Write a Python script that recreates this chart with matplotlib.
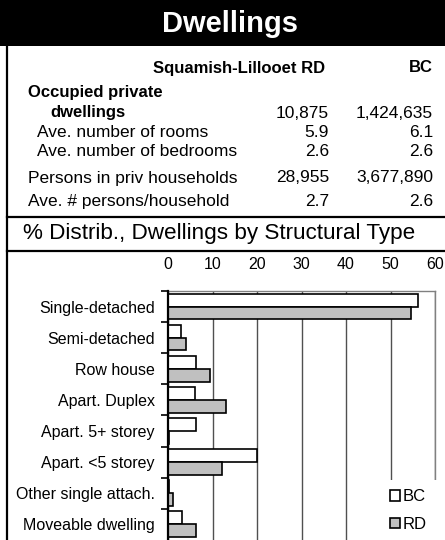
import matplotlib
matplotlib.use("Agg")
import matplotlib.pyplot as plt
from matplotlib.patches import Patch, Rectangle
from matplotlib.lines import Line2D

plt.rcParams['font.family'] = ['Liberation Sans', 'DejaVu Sans']

# ---- data ----
categories = ["Single-detached", "Semi-detached", "Row house", "Apart. Duplex",
              "Apart. 5+ storey", "Apart. <5 storey", "Other single attach.",
              "Moveable dwelling"]
bc_values = [56.2, 2.9, 6.2, 6.1, 6.2, 19.9, 0.2, 3.1]
rd_values = [54.7, 4.0, 9.5, 13.1, 0.3, 12.1, 1.1, 6.4]
x_ticks = [0, 10, 20, 30, 40, 50, 60]

title = "Dwellings"
col_headers = ["Squamish-Lillooet RD", "BC"]
row_labels = ["Ave. number of rooms", "Ave. number of bedrooms",
              "Persons in priv households", "Ave. # persons/household"]
dwell_rd, dwell_bc = "10,875", "1,424,635"
rd_stats = ["5.9", "2.6", "28,955", "2.7"]
bc_stats = ["6.1", "2.6", "3,677,890", "2.6"]
subtitle = "% Distrib., Dwellings by Structural Type"

W, H = 445, 540
fig = plt.figure(figsize=(W / 100, H / 100), dpi=100)

def fx(x):
    return x / W

def fy(y):
    return 1 - y / H

def T(x, y, s, **kw):
    kw.setdefault('va', 'center')
    fig.text(fx(x), fy(y), s, **kw)

# black title band
fig.add_artist(Rectangle((0, fy(46)), 1, 46 / H, transform=fig.transFigure,
                         facecolor='black', edgecolor='none'))
T(230, 24, title, ha='center', color='white', fontsize=21, fontweight='bold')

# left border line
fig.add_artist(Line2D([fx(7), fx(7)], [fy(46), 0], transform=fig.transFigure,
                      color='black', lw=1.6))
# horizontal separators
for yy in (217, 251):
    fig.add_artist(Line2D([fx(7), 1], [fy(yy), fy(yy)], transform=fig.transFigure,
                          color='black', lw=1.6))

# table text
T(325, 68, col_headers[0], ha='right', fontsize=12, fontweight='bold')
T(433, 68, col_headers[1], ha='right', fontsize=12, fontweight='bold')
T(28, 92, "Occupied private", ha='left', fontsize=12, fontweight='bold')
T(50, 113, "dwellings", ha='left', fontsize=12, fontweight='bold')
T(329, 113, dwell_rd, ha='right', fontsize=12.5)
T(433, 113, dwell_bc, ha='right', fontsize=12.5)
row_y = [133, 152, 178, 202]
row_x = [37, 37, 28, 28]
for lab, a, b, yy, xx in zip(row_labels, rd_stats, bc_stats, row_y, row_x):
    T(xx, yy, lab, ha='left', fontsize=12.5)
    T(329, yy, a, ha='right', fontsize=12.5)
    T(433, yy, b, ha='right', fontsize=12.5)

T(219, 233, subtitle, ha='center', fontsize=16.2)

# ---- chart ----
ax_left, ax_right, ax_top = 168, 435, 291
band = 31.1
ax = fig.add_axes([fx(ax_left), fy(ax_top + 8 * band), (ax_right - ax_left) / W,
                   8 * band / H])
n = len(categories)
pos = list(range(n))
bh = 0.41
ax.barh([p - bh / 2 for p in pos], bc_values, height=bh, color='white',
        edgecolor='black', linewidth=1.2, zorder=3, label='BC')
ax.barh([p + bh / 2 for p in pos], rd_values, height=bh, color='#c0c0c0',
        edgecolor='black', linewidth=1.2, zorder=3, label='RD')
ax.set_xlim(0, 60)
ax.set_ylim(n - 0.5, -0.5)
ax.xaxis.tick_top()
ax.set_xticks(x_ticks)
ax.set_xticklabels([str(v) for v in x_ticks])
ax.tick_params(axis='x', length=0, pad=14, labelsize=11.5)
ax.set_yticks(pos)
ax.set_yticklabels(categories)
ax.tick_params(axis='y', which='major', length=0, pad=9.5, labelsize=11.5)
ax.set_yticks([p - 0.5 for p in pos], minor=True)
ax.tick_params(axis='y', which='minor', length=5, width=1.2, direction='out',
               color='black')
ax.grid(axis='x', color='#505050', linewidth=1.0, zorder=0)
ax.set_axisbelow(True)
ax.spines['left'].set_linewidth(1.6)
ax.spines['left'].set_color('black')
ax.spines['left'].set_zorder(4)
for s in ('top', 'right'):
    ax.spines[s].set_color('#808080')
    ax.spines[s].set_linewidth(1.0)
ax.spines['bottom'].set_visible(False)

# white legend area covering the lower-right of the plot
fig.add_artist(Rectangle((fx(378), 0), 1 - fx(378), (540 - 480) / H,
                         transform=fig.transFigure, facecolor='white',
                         edgecolor='none', zorder=5))

handles = [Patch(facecolor='white', edgecolor='black', linewidth=1.2, label='BC'),
           Patch(facecolor='#c0c0c0', edgecolor='black', linewidth=1.2, label='RD')]
leg = fig.legend(handles=handles, loc='upper left',
                 bbox_to_anchor=(fx(387), fy(486)), frameon=False,
                 fontsize=12, handlelength=0.6, handleheight=0.6,
                 handletextpad=0.15, labelspacing=0.75, borderpad=0.2,
                 borderaxespad=0)
leg.set_zorder(10)

fig.savefig("out.png", dpi=100)
